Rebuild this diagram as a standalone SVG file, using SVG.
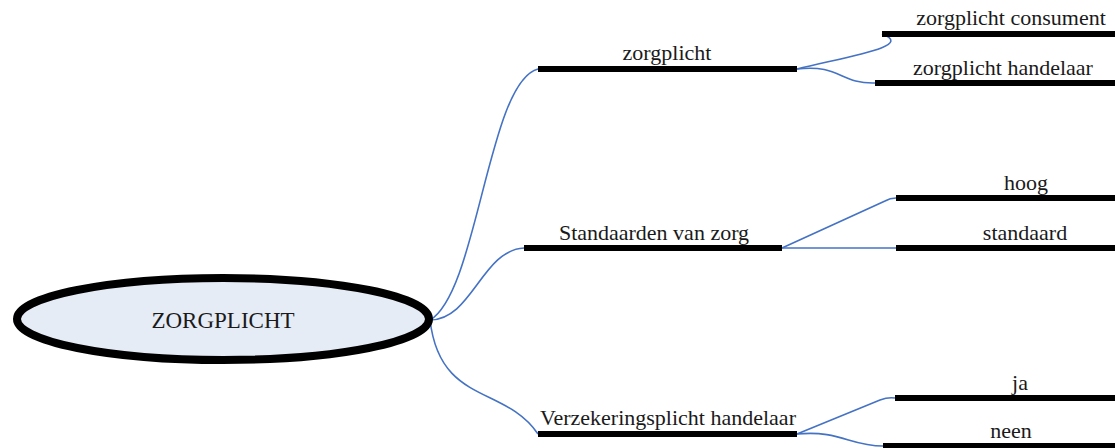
<svg xmlns="http://www.w3.org/2000/svg" width="1115" height="448" viewBox="0 0 1115 448">
  <style>
    .bar { stroke: #000; stroke-width: 6; }
    .lbl { font-family: 'Liberation Serif', 'DejaVu Serif', serif; font-size: 22px; fill: #1a1a1a; text-anchor: middle; }
    .link { fill: none; stroke: #4472C4; stroke-width: 1.6; }
  </style>
  <rect width="1115" height="448" fill="#fff"/>

  <!-- connectors -->
  <g id="connectors">
    <path class="link" d="M430,320 C 478,292 488,82 538,69"/>
    <path class="link" d="M430,320 C 472,320 482,250 524,248"/>
    <path class="link" d="M430,320 C 440,405 505,385 538,434"/>
    <path class="link" d="M797,69 C 850,56 915,46 882,34"/>
    <path class="link" d="M797,69 C 840,64 840,84 875,83"/>
    <path class="link" d="M782,248 L 885,201 Q 890,198 896,198"/>
    <path class="link" d="M782,248 L 896,248"/>
    <path class="link" d="M797,434 L 880,400 Q 888,397 895,398"/>
    <path class="link" d="M797,434 C 840,430 850,446 883,446"/>
  </g>

  <!-- root -->
  <g id="root">
    <ellipse cx="223" cy="319" rx="206" ry="41" fill="#E6ECF6" stroke="#000" stroke-width="8"/>
    <text class="lbl" x="223" y="328" style="font-size:23px">ZORGPLICHT</text>
  </g>

  <g id="n-zorgplicht">
    <line class="bar" x1="538" y1="69" x2="797" y2="69"/>
    <text class="lbl" x="667" y="60">zorgplicht</text>
  </g>
  <g id="n-consument">
    <line class="bar" x1="882" y1="34" x2="1115" y2="34"/>
    <text class="lbl" x="1011" y="25">zorgplicht consument</text>
  </g>
  <g id="n-handelaar">
    <line class="bar" x1="875" y1="83" x2="1115" y2="83"/>
    <text class="lbl" x="1003" y="75">zorgplicht handelaar</text>
  </g>

  <g id="n-standaarden">
    <line class="bar" x1="524" y1="248" x2="782" y2="248"/>
    <text class="lbl" x="654" y="240">Standaarden van zorg</text>
  </g>
  <g id="n-hoog">
    <line class="bar" x1="896" y1="198" x2="1115" y2="198"/>
    <text class="lbl" x="1026" y="190">hoog</text>
  </g>
  <g id="n-standaard">
    <line class="bar" x1="896" y1="248" x2="1115" y2="248"/>
    <text class="lbl" x="1025" y="240">standaard</text>
  </g>

  <g id="n-verzekering">
    <line class="bar" x1="538" y1="434" x2="797" y2="434"/>
    <text class="lbl" x="668" y="425">Verzekeringsplicht handelaar</text>
  </g>
  <g id="n-ja">
    <line class="bar" x1="895" y1="398" x2="1115" y2="398"/>
    <text class="lbl" x="1020" y="390">ja</text>
  </g>
  <g id="n-neen">
    <line class="bar" x1="883" y1="446" x2="1115" y2="446"/>
    <text class="lbl" x="1011" y="438">neen</text>
  </g>
</svg>
